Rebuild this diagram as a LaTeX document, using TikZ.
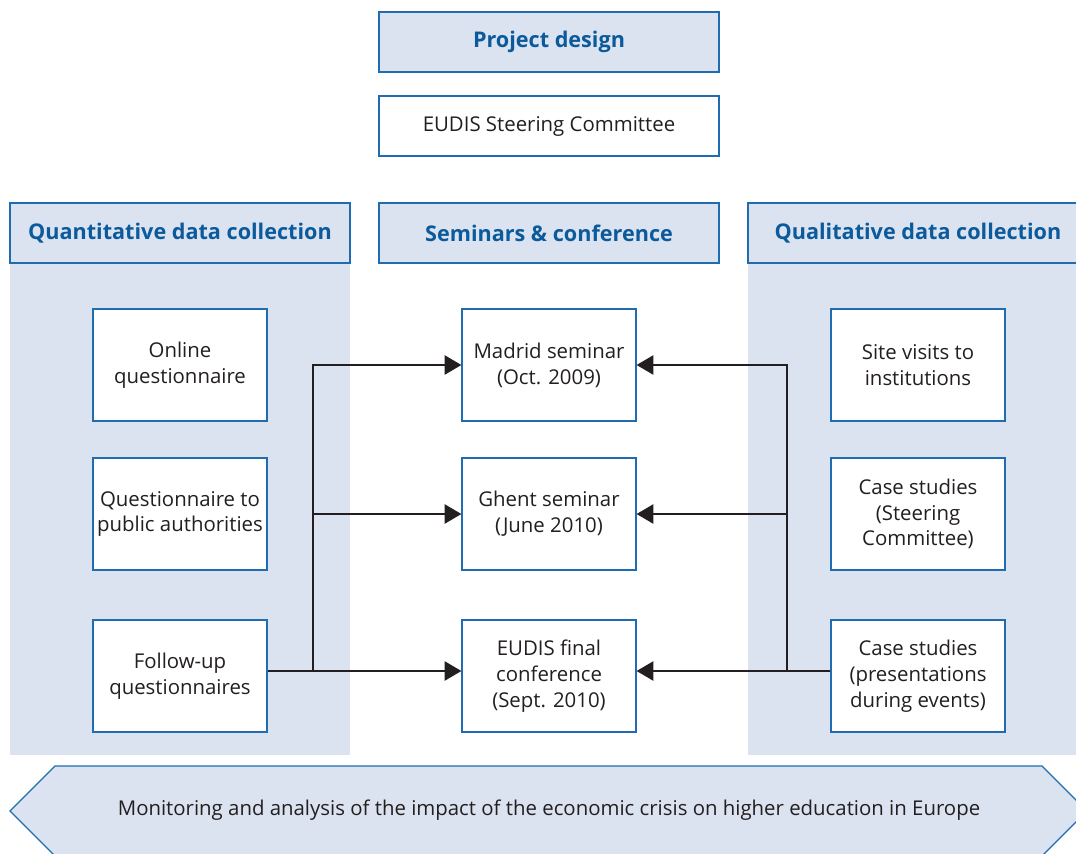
\documentclass[tikz,border=0pt]{standalone}
\usepackage{fontspec}
\setmainfont{Open Sans}
\usetikzlibrary{arrows.meta}

\definecolor{eudisblue}{HTML}{1F6CB0}
\definecolor{paleblue}{HTML}{DCE3F0}
\definecolor{headtext}{HTML}{0B5A9C}
\definecolor{bodytext}{HTML}{231F20}

\tikzset{
  headbox/.style={draw=eudisblue, line width=0.75pt, fill=paleblue,
    minimum width=6.8cm, minimum height=1.2cm, text=headtext,
    font=\bfseries\fontsize{12.3}{14}\selectfont},
  itembox/.style={draw=eudisblue, line width=0.75pt, fill=white,
    minimum width=3.48cm, minimum height=2.24cm, inner xsep=1pt,
    align=center, text=bodytext, font=\fontsize{11.6}{14.7}\selectfont},
  feed/.style={draw=bodytext, line width=0.75pt,
    -{Triangle[length=9.5pt,width=11pt]}}
}

\begin{document}
\begin{tikzpicture}[x=0.02cm, y=-0.02cm]
      \useasboundingbox (0,0) rectangle (1076,853);
      \clip (0,0) rectangle (1076,853);

      % column backgrounds
      \fill[paleblue] (10,263) rectangle (350,755);
      \fill[paleblue] (748,263) rectangle (1090,755);

      \node[headbox] (design) at (549,42) {Project design};
      \node[itembox, minimum width=6.8cm, minimum height=1.2cm] (committee) at (549,126) {EUDIS Steering Committee};

      \node[headbox] (quanti) at (180,233) {Quantitative data collection};
      \node[headbox] (seminars) at (549,233) {Seminars \& conference};
      \node[headbox] (quali) at (918,233) {Qualitative data collection};

      % left column
      \node[itembox] (online) at (180,365) {Online\\questionnaire};
      \node[itembox] (authorities) at (180,514) {Questionnaire to\\public authorities};
      \node[itembox] (followup) at (180,676) {Follow-up\\questionnaires};

      % middle column
      \node[itembox] (madrid) at (549,365) {Madrid seminar\\(Oct. 2009)};
      \node[itembox] (ghent) at (549,514) {Ghent seminar\\(June 2010)};
      \node[itembox] (final) at (549,676) {EUDIS final\\conference\\(Sept. 2010)};

      % right column
      \node[itembox] (visits) at (918,365) {Site visits to\\institutions};
      \node[itembox] (steering) at (918,514) {Case studies\\(Steering\\Committee)};
      \node[itembox] (events) at (918,676) {Case studies\\(presentations\\during events)};

      \coordinate (ltrunk) at (313,0);
      \coordinate (rtrunk) at (787,0);
      \coordinate (lowrow) at (0,671);

      \draw[feed] (followup.east |- lowrow) -- (final.west |- lowrow);
      \draw[feed] (ltrunk |- lowrow) |- (madrid.west);
      \draw[feed] (ltrunk |- ghent.west) -- (ghent.west);

      \draw[feed] (events.west |- lowrow) -- (final.east |- lowrow);
      \draw[feed] (rtrunk |- lowrow) |- (madrid.east);
      \draw[feed] (rtrunk |- ghent.east) -- (ghent.east);

      % bottom band
      \draw[draw=eudisblue, line width=0.75pt, fill=paleblue]
        (10,811) -- (55,766) -- (1042,766) -- (1087,811) -- (1042,856) -- (55,856) -- cycle;
      \node[text=bodytext, font=\fontsize{11.6}{14}\selectfont] (monitor) at (549,810)
        {Monitoring and analysis of the impact of the economic crisis on higher education in Europe};
\end{tikzpicture}
\end{document}
